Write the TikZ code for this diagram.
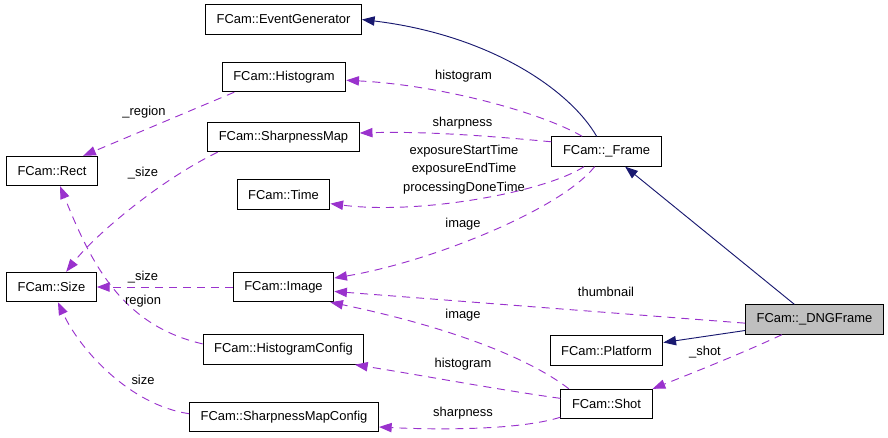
\documentclass[tikz,border=0pt]{standalone}
\usepackage{fontspec}
\setmainfont{Liberation Sans}
\usetikzlibrary{arrows.meta}
\definecolor{inheritBlue}{HTML}{191970}
\definecolor{usageOrchid}{HTML}{9A32CD}
\definecolor{mainGray}{HTML}{BFBFBF}
\begin{document}
\begin{tikzpicture}[
  x=0.75pt, y=-0.75pt,
  font=\fontsize{9.7}{13.9}\selectfont,
  box/.style={draw, line width=0.8pt, minimum height=22pt, inner xsep=8.3pt, inner ysep=0pt, fill=white},
  mainbox/.style={box, fill=mainGray},
  inherit/.style={-{Triangle[length=9.5pt,width=7pt]}, line width=0.7pt, inheritBlue},
  usage/.style={-{Triangle[length=9.5pt,width=7pt]}, line width=0.7pt, usageOrchid, dash pattern=on 6pt off 4.5pt},
  lbl/.style={inner sep=0pt, align=center}]

\useasboundingbox (0,0) rectangle (888,437);

% Class boxes, placed at the pixel centres of the reference
\node[box] (eventGenerator) at (283.5,19.5) {FCam::EventGenerator};
\node[box] (histogram) at (284,77) {FCam::Histogram};
\node[box] (sharpnessMap) at (283.5,137) {FCam::SharpnessMap};
\node[box] (rect) at (52,171) {FCam::Rect};
\node[box] (time) at (283.5,194.5) {FCam::Time};
\node[box] (frame) at (606.5,151.5) {FCam::\_Frame};
\node[box] (size) at (51.5,287) {FCam::Size};
\node[box] (image) at (283.5,287) {FCam::Image};
\node[box] (histogramConfig) at (283.5,349.5) {FCam::HistogramConfig};
\node[box] (sharpnessMapConfig) at (284,417) {FCam::SharpnessMapConfig};
\node[mainbox] (dngFrame) at (814.5,319.5) {FCam::\_DNGFrame};
\node[box] (platform) at (606.5,350.5) {FCam::Platform};
\node[box] (shot) at (606.5,404) {FCam::Shot};

% Inheritance
\draw[inherit] (frame.123) .. controls (570,90) and (490,35) .. (eventGenerator.east);
\draw[inherit] (dngFrame.143) -- (frame);
\draw[inherit] (dngFrame.189) -- (platform.8);

% Members
\draw[usage] (dngFrame.205) .. controls (745,352) and (695,372) .. (shot.north east);
\draw[usage] (dngFrame.183) -- (image.-5);
\draw[usage] (frame.148) .. controls (540,112) and (440,85) .. (histogram.-3);
\draw[usage] (frame.170) .. controls (500,137) and (430,131) .. (sharpnessMap.3);
\draw[usage] (frame.214) .. controls (545,192) and (420,215) .. (time.-11);
\draw[usage] (frame.232) .. controls (560,210) and (430,262) .. (image.10);
\draw[usage] (image) -- (size);
\draw[usage] (histogramConfig.176) .. controls (120,325) and (90,260) .. (rect.-62);
\draw[usage] (histogram.197) -- (rect.26);
\draw[usage] (sharpnessMap.193) .. controls (160,180) and (95,235) .. (size.46);
\draw[usage] (sharpnessMapConfig.178) .. controls (130,405) and (80,350) .. (size.-67);
\draw[usage] (shot.158) .. controls (525,355) and (440,325) .. (image.-18);
\draw[usage] (shot.173) .. controls (500,390) and (420,375) .. (histogramConfig.-12);
\draw[usage] (shot.196) .. controls (520,430) and (440,430) .. (sharpnessMapConfig.-6);

% Member names
\node[lbl] (lblHistogram) at (463.5,76) {histogram};
\node[lbl] (lblSharpness) at (462.5,123) {sharpness};
\node[lbl] (lblTimes) at (464,169.5) {exposureStartTime\\exposureEndTime\\processingDoneTime};
\node[lbl] (lblImage) at (463,224) {image};
\node[lbl] (lblThumbnail) at (606,292) {thumbnail};
\node[lbl] (lblShotImage) at (463,315) {image};
\node[lbl] (lblShotHistogram) at (463,364) {histogram};
\node[lbl] (lblShotSharpness) at (463,413) {sharpness};
\node[lbl] (lblShot) at (705,352) {\_shot};
\node[lbl] (lblRegion) at (144,112) {\_region};
\node[lbl] (lblMapSize) at (143,173) {\_size};
\node[lbl] (lblImageSize) at (143,277) {\_size};
\node[lbl] (lblConfigRegion) at (143,301) {region};
\node[lbl] (lblConfigSize) at (143,380) {size};
\end{tikzpicture}
\end{document}
